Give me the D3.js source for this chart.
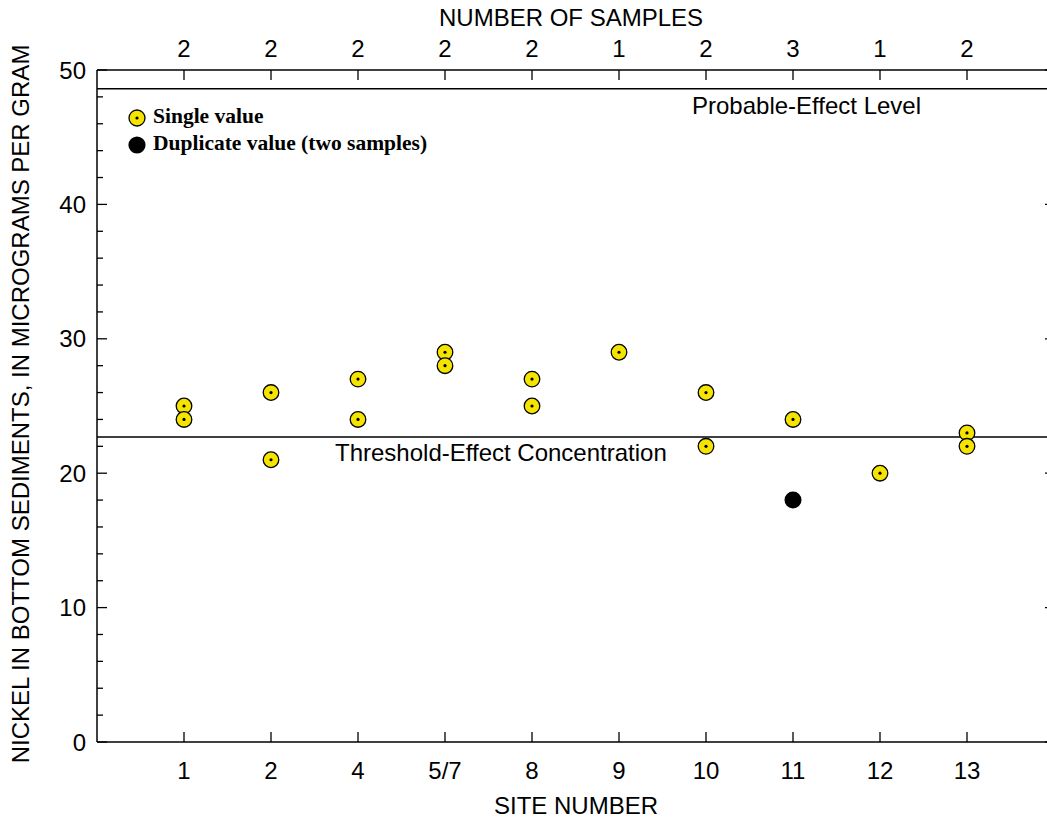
<!DOCTYPE html>
<html>
<head>
<meta charset="utf-8">
<script src="https://cdn.jsdelivr.net/npm/d3@7"></script>
<style>
  html, body { margin: 0; padding: 0; background: #fff; }
  svg { display: block; }
  text { font-family: "Liberation Sans", Arial, Helvetica, sans-serif; fill: #000; }
</style>
</head>
<body>
<svg id="chart" width="1047" height="821"></svg>
<script>
// ---- data ----
const sites = ["1", "2", "4", "5/7", "8", "9", "10", "11", "12", "13"];
const sampleCounts = [2, 2, 2, 2, 2, 1, 2, 3, 1, 2];
const singleSite = ["1", "1", "2", "2", "4", "4", "5/7", "5/7", "8", "8", "9", "10", "10", "11", "12", "13", "13"];
const singleValue = [25, 24, 26, 21, 27, 24, 29, 28, 27, 25, 29, 26, 22, 24, 20, 23, 22];
const duplicateSite = ["11"];
const duplicateValue = [18];
const yTicks = [0, 10, 20, 30, 40, 50];
const yMinorTicks = d3.range(0, 51, 2);
const probableEffectLevel = 48.6;
const thresholdEffectConcentration = 22.7;

// ---- layout ----
const svg = d3.select("#chart");
const pL = 97, pR = 1054, pT = 70, pB = 742;

const x = d3.scalePoint().domain(sites).range([pL, pR]).padding(1);
const y = d3.scaleLinear().domain([0, 50]).range([pB, pT]);

const sansSize = 24;

// frame lines
svg.append("line").attr("x1", pL).attr("x2", pR).attr("y1", pT).attr("y2", pT)
  .attr("stroke", "#000").attr("stroke-width", 1.5);
svg.append("line").attr("x1", pL).attr("x2", pR).attr("y1", pB).attr("y2", pB)
  .attr("stroke", "#000").attr("stroke-width", 1.5);
svg.append("line").attr("x1", pL).attr("x2", pL).attr("y1", pT).attr("y2", pB)
  .attr("stroke", "#000").attr("stroke-width", 1.5);
svg.append("line").attr("x1", pR).attr("x2", pR).attr("y1", pT).attr("y2", pB)
  .attr("stroke", "#000").attr("stroke-width", 1.5);

// left axis ticks
svg.append("g").selectAll("line").data(yMinorTicks).join("line")
  .attr("x1", pL).attr("x2", d => pL + (d % 10 === 0 ? 10 : 6))
  .attr("y1", d => y(d)).attr("y2", d => y(d))
  .attr("stroke", "#000").attr("stroke-width", 1.3);
// right axis major ticks
svg.append("g").selectAll("line").data(yTicks).join("line")
  .attr("x1", pR).attr("x2", pR - 9)
  .attr("y1", d => y(d)).attr("y2", d => y(d))
  .attr("stroke", "#000").attr("stroke-width", 1.3);
svg.append("g").selectAll("text").data(yTicks).join("text")
  .attr("x", 86).attr("y", d => y(d) + 8.5)
  .attr("text-anchor", "end").attr("font-size", sansSize).text(d => d);

// bottom ticks and labels
svg.append("g").selectAll("line").data(sites).join("line")
  .attr("x1", d => x(d)).attr("x2", d => x(d))
  .attr("y1", pB).attr("y2", pB - 10)
  .attr("stroke", "#000").attr("stroke-width", 1.3);
svg.append("g").selectAll("text").data(sites).join("text")
  .attr("x", d => x(d)).attr("y", 779)
  .attr("text-anchor", "middle").attr("font-size", sansSize).text(d => d);

// top ticks and sample counts
svg.append("g").selectAll("line").data(sites).join("line")
  .attr("x1", d => x(d)).attr("x2", d => x(d))
  .attr("y1", pT).attr("y2", pT + 10)
  .attr("stroke", "#000").attr("stroke-width", 1.3);
svg.append("g").selectAll("text").data(sites).join("text")
  .attr("x", d => x(d)).attr("y", 57)
  .attr("text-anchor", "middle").attr("font-size", sansSize)
  .text((d, i) => sampleCounts[i]);

// titles
svg.append("text").attr("x", 571).attr("y", 26).attr("text-anchor", "middle")
  .attr("font-size", sansSize).text("NUMBER OF SAMPLES");
svg.append("text").attr("x", 576).attr("y", 814).attr("text-anchor", "middle")
  .attr("font-size", sansSize).text("SITE NUMBER");
svg.append("text")
  .attr("transform", "translate(29,404) rotate(-90)")
  .attr("text-anchor", "middle").attr("font-size", sansSize)
  .text("NICKEL IN BOTTOM SEDIMENTS, IN MICROGRAMS PER GRAM");

// reference lines
svg.append("line").attr("x1", pL).attr("x2", pR)
  .attr("y1", y(probableEffectLevel)).attr("y2", y(probableEffectLevel))
  .attr("stroke", "#000").attr("stroke-width", 1.5);
svg.append("text").attr("x", 692).attr("y", y(probableEffectLevel) + 25)
  .attr("font-size", sansSize).text("Probable-Effect Level");
svg.append("line").attr("x1", pL).attr("x2", pR)
  .attr("y1", y(thresholdEffectConcentration)).attr("y2", y(thresholdEffectConcentration))
  .attr("stroke", "#000").attr("stroke-width", 1.5);
svg.append("text").attr("x", 335).attr("y", y(thresholdEffectConcentration) + 24)
  .attr("font-size", sansSize).text("Threshold-Effect Concentration");

// points
const yellow = "#f5e400";
const singles = singleSite.map((s, i) => ({ site: s, value: singleValue[i] }));
const pts = svg.append("g");
pts.selectAll("circle.single").data(singles).join("circle").attr("class", "single")
  .attr("cx", d => x(d.site)).attr("cy", d => y(d.value)).attr("r", 7.8)
  .attr("fill", yellow).attr("stroke", "#000").attr("stroke-width", 1.3);
pts.selectAll("circle.dot").data(singles).join("circle").attr("class", "dot")
  .attr("cx", d => x(d.site)).attr("cy", d => y(d.value)).attr("r", 1.6)
  .attr("fill", "#000");
const dups = duplicateSite.map((s, i) => ({ site: s, value: duplicateValue[i] }));
pts.selectAll("circle.dup").data(dups).join("circle").attr("class", "dup")
  .attr("cx", d => x(d.site)).attr("cy", d => y(d.value)).attr("r", 8.5)
  .attr("fill", "#000");

// legend
const lg = svg.append("g");
lg.append("circle").attr("cx", 137).attr("cy", 118).attr("r", 8)
  .attr("fill", yellow).attr("stroke", "#000").attr("stroke-width", 1.3);
lg.append("circle").attr("cx", 137).attr("cy", 118).attr("r", 1.6).attr("fill", "#000");
lg.append("circle").attr("cx", 137).attr("cy", 145).attr("r", 8.6).attr("fill", "#000");
lg.append("text").attr("x", 153).attr("y", 123)
  .style("font-family", "'Liberation Serif', 'Times New Roman', serif")
  .attr("font-weight", "bold").attr("font-size", 21.5).text("Single value");
lg.append("text").attr("x", 153).attr("y", 150)
  .style("font-family", "'Liberation Serif', 'Times New Roman', serif")
  .attr("font-weight", "bold").attr("font-size", 21.5).text("Duplicate value (two samples)");
</script>
</body>
</html>
